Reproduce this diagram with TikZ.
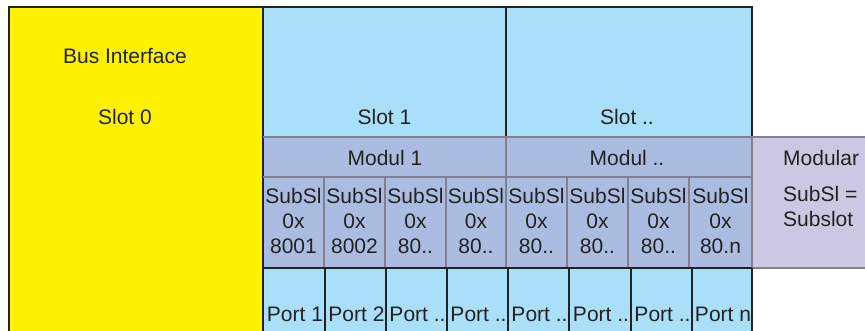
\documentclass[tikz,border=0pt]{standalone}
\usepackage{fontspec}
\setmainfont{Liberation Sans}
\definecolor{ybus}{HTML}{FFF200}
\definecolor{slotblue}{HTML}{AADFFA}
\definecolor{modblue}{HTML}{AABCE0}
\definecolor{lav}{HTML}{CCC8E4}
\definecolor{gline}{HTML}{808090}
\definecolor{dline}{HTML}{222222}
\definecolor{txt}{HTML}{222222}
\tikzset{
  lbl/.style={font=\fontsize{21}{25}\selectfont, text=txt, inner sep=0pt, anchor=base},
  blackline/.style={draw=dline, line width=1.8pt},
  grayline/.style={draw=gline, line width=1.6pt},
  thingray/.style={draw=gline, line width=1.3pt},
}
\begin{document}
\begin{tikzpicture}[x=1pt,y=-1pt]
\useasboundingbox (0,0) rectangle (865,331);
\clip (0,0) rectangle (865,331);
% fills
\fill[ybus] (9,7) rectangle (263,345);
\fill[slotblue] (263,7) rectangle (752,137);
\fill[modblue] (263,137) rectangle (752,268);
\fill[lav] (752,137) rectangle (880,268);
\fill[slotblue] (263,268) rectangle (752,345);
% black frame lines
\draw[blackline] (9,345) -- (9,7) -- (752,7) -- (752,137);
\draw[blackline] (263,7) -- (263,345);
\draw[blackline] (506,7) -- (506,137);
% gray grid of module / subslot rows
\draw[grayline] (263,137) -- (880,137);
\draw[grayline] (752,268) -- (880,268);
\draw[thingray] (263,177) -- (752,177);
\draw[thingray] (506,137) -- (506,177);
\draw[thingray] (752,137) -- (752,268);
\foreach \x in {324,385,446,506,567,628,689}
  \draw[thingray] (\x,177) -- (\x,268);
% port row lines
\draw[blackline] (263,268) -- (752,268);
\foreach \x in {325,386,447,508,569,631,692,752}
  \draw[blackline] (\x,268) -- (\x,345);
% texts
\node[lbl] (bus) at (125,64) {Bus Interface};
\node[lbl] (slot0) at (125,125) {Slot 0};
\node[lbl] (slot1) at (384.5,125) {Slot 1};
\node[lbl] (slotn) at (627,125) {Slot ..};
\node[lbl] (mod1) at (385,166) {Modul 1};
\node[lbl] (modn) at (627,166) {Modul ..};
\node[lbl, anchor=base west] (modular) at (783,166) {Modular};
\node[lbl, anchor=base west] (subsl) at (783,202) {SubSl =};
\node[lbl, anchor=base west] (subslot) at (783,227) {Subslot};
\foreach \i/\xa/\xb/\num in {1/263/324/8001,2/324/385/8002,3/385/446/80..,4/446/506/80..,5/506/567/80..,6/567/628/80..,7/628/689/80..,8/689/752/80.n}{
  \node[lbl] (ssa\i) at ({(\xa+\xb)/2},204) {SubSl};
  \node[lbl] (ssb\i) at ({(\xa+\xb)/2},229) {0x};
  \node[lbl] (ssc\i) at ({(\xa+\xb)/2},254) {\num};
}
\foreach \i/\xa/\xb/\pt in {1/263/325/1,2/325/386/2,3/386/447/..,4/447/508/..,5/508/569/..,6/569/631/..,7/631/692/..,8/692/752/n}{
  \node[lbl] (port\i) at ({(\xa+\xb)/2+1},321) {Port \pt};
}
\end{tikzpicture}
\end{document}
